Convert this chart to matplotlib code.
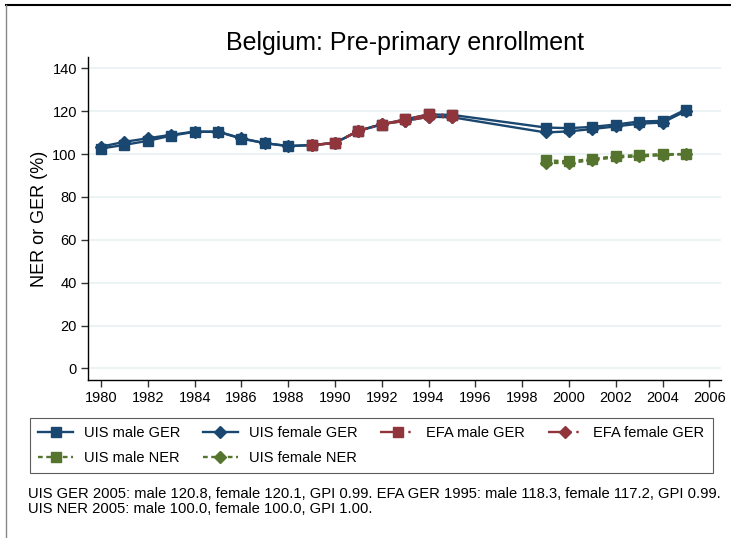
import matplotlib.pyplot as plt
from matplotlib.lines import Line2D

plt.rcParams['font.family'] = ['Liberation Sans', 'DejaVu Sans']

# UIS gross enrollment (no data 1996-1998)
uis_years = [1980, 1981, 1982, 1983, 1984, 1985, 1986, 1987, 1988, 1989, 1990,
             1991, 1992, 1993, 1994, 1995, 1999, 2000, 2001, 2002, 2003, 2004, 2005]
uis_male_ger = [102.6, 104.3, 106.2, 108.6, 110.4, 110.4, 107.2, 105.1, 103.7, 104.2, 105.2,
                110.8, 113.8, 116.2, 118.5, 118.3, 112.4, 112.1, 112.7, 113.8, 115.2, 115.5, 120.8]
uis_female_ger = [103.5, 105.7, 107.4, 109.0, 110.5, 110.5, 107.4, 105.1, 103.8, 104.2, 105.2,
                  110.9, 114.0, 115.5, 117.4, 117.2, 110.1, 110.6, 111.7, 112.9, 114.2, 114.7, 120.1]

# EFA gross enrollment
efa_years = [1989, 1990, 1991, 1992, 1993, 1994, 1995]
efa_male_ger = [104.2, 105.2, 110.8, 113.8, 116.2, 118.5, 118.3]
efa_female_ger = [104.2, 105.2, 110.9, 114.0, 115.5, 117.4, 117.2]

# UIS net enrollment
ner_years = [1999, 2000, 2001, 2002, 2003, 2004, 2005]
uis_male_ner = [97.1, 96.6, 97.7, 99.1, 99.5, 100.0, 100.0]
uis_female_ner = [95.9, 95.8, 97.2, 98.5, 98.9, 99.5, 100.0]

y_ticks = [0, 20, 40, 60, 80, 100, 120, 140]
x_ticks = list(range(1980, 2007, 2))

navy = '#1a476f'
maroon = '#90353b'
green = '#55752f'

fig = plt.figure(figsize=(7.31, 5.38), dpi=100)
ax = fig.add_axes([88 / 731, 1 - 380 / 538, (721 - 88) / 731, (380 - 57) / 538])

lw = 1.7
h_um, = ax.plot(uis_years, uis_male_ger, color=navy, lw=lw, marker='s', ms=7,
                label='UIS male GER', zorder=3)
h_uf, = ax.plot(uis_years, uis_female_ger, color=navy, lw=lw, marker='D', ms=6.5,
                label='UIS female GER', zorder=3)
efa_ls = (0, (10, 2, 1, 2))
h_em, = ax.plot(efa_years, efa_male_ger, color=maroon, lw=lw, ls=efa_ls, marker='s', ms=7,
                label='EFA male GER', zorder=4)
h_ef, = ax.plot(efa_years, efa_female_ger, color=maroon, lw=lw, ls=efa_ls, marker='D', ms=6.5,
                label='EFA female GER', zorder=4)
ner_ls = (0, (2, 1.5))
h_nm, = ax.plot(ner_years, uis_male_ner, color=green, lw=lw, ls=ner_ls, marker='s', ms=7,
                label='UIS male NER', zorder=3)
h_nf, = ax.plot(ner_years, uis_female_ner, color=green, lw=lw, ls=ner_ls, marker='D', ms=6.5,
                label='UIS female NER', zorder=3)

ax.set_xlim(1979.44, 2006.5)
ax.set_ylim(-5.4, 145.3)
ax.set_yticks(y_ticks)
ax.set_xticks(x_ticks)
ax.grid(axis='y', color='#eaf2f3', lw=1.3, zorder=0)
ax.set_axisbelow(True)
for s in ['top', 'right']:
    ax.spines[s].set_visible(False)
for s in ['left', 'bottom']:
    ax.spines[s].set_linewidth(1.0)
ax.tick_params(axis='both', direction='out', length=5, width=1.0, color='#333333',
               labelsize=10.5, pad=3)
ax.set_ylabel('NER or GER (%)', fontsize=13, labelpad=3)
ax.set_title('Belgium: Pre-primary enrollment', fontsize=18, pad=5)

# column-major order so the legend reads row by row
handles = [h_um, h_nm, h_uf, h_nf, h_em, h_ef]
leg = ax.legend(handles=handles, labels=[h.get_label() for h in handles],
                loc='upper left', bbox_to_anchor=(30 / 731, 1 - 418 / 538),
                bbox_transform=fig.transFigure, ncol=4, fontsize=10.5,
                frameon=True, fancybox=False, edgecolor='#333333',
                handlelength=2.4, handletextpad=0.75, columnspacing=1.55,
                borderpad=0.55, labelspacing=0.75, borderaxespad=0)
leg.get_frame().set_linewidth(0.8)

fig.text(28 / 731, 1 - 501.5 / 538,
         'UIS GER 2005: male 120.8, female 120.1, GPI 0.99. '
         'EFA GER 1995: male 118.3, female 117.2, GPI 0.99.\n'
         'UIS NER 2005: male 100.0, female 100.0, GPI 1.00.',
         fontsize=10.6, va='center', ha='left', linespacing=1.15)

# screenshot frame edges
fig.add_artist(Line2D([6 / 731, 1], [1 - 5 / 538, 1 - 5 / 538], color='black', lw=1.5))
fig.add_artist(Line2D([6 / 731, 6 / 731], [0, 1 - 5 / 538], color='#888888', lw=1.0))

fig.savefig('out.png', dpi=100)
